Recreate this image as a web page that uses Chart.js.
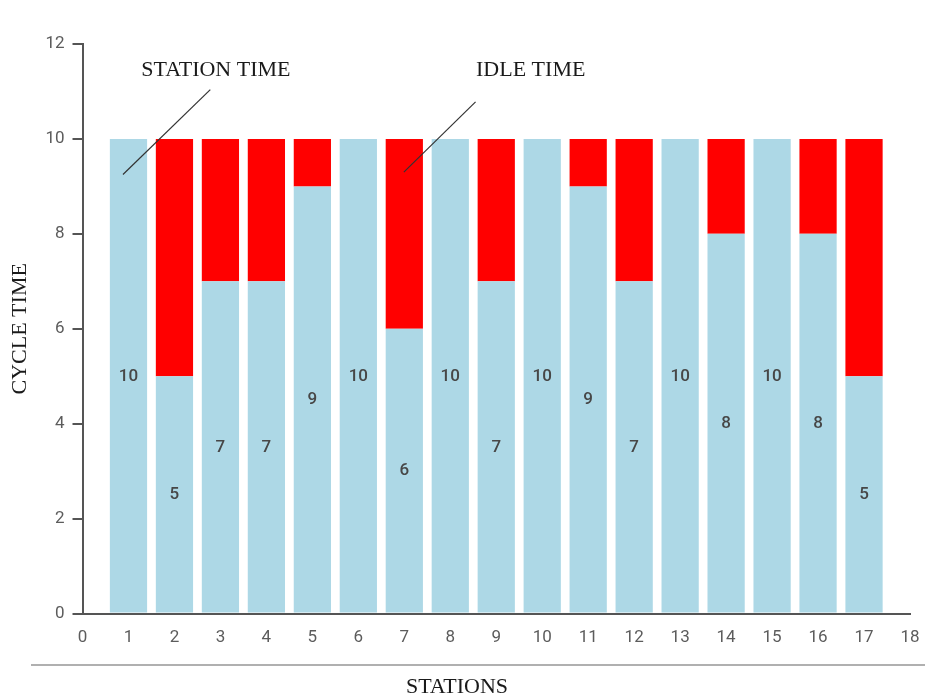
<!DOCTYPE html>
<html>
<head>
<meta charset="utf-8">
<script src="https://cdn.jsdelivr.net/npm/chart.js@4"></script>
<style>
  html, body { margin: 0; padding: 0; background: #ffffff; overflow: hidden; }
  #wrap { width: 925px; height: 700px; position: relative; }
</style>
</head>
<body>
<div id="wrap"><canvas id="chart"></canvas></div>
<script>
// Station numbers along the line
const stations = [1, 2, 3, 4, 5, 6, 7, 8, 9, 10, 11, 12, 13, 14, 15, 16, 17];
// Work content of each station (time units)
const stationTime = [10, 5, 7, 7, 9, 10, 6, 10, 7, 10, 9, 7, 10, 8, 10, 8, 5];
// Unused part of the cycle at each station
const idleTime = [0, 5, 3, 3, 1, 0, 4, 0, 3, 0, 1, 3, 0, 2, 0, 2, 5];
// Axis ranges and tick steps
const xRange = [0, 18];
const yRange = [0, 12];
const yStep = 2;

const AXIS = '#555555';
const TICK_TEXT = '#5c5c5c';
const SERIF = '"Liberation Serif", "Times New Roman", serif';
const SANS = 'Roboto, "DejaVu Sans", sans-serif';

// Value labels in the middle of each station-time bar, plus the callouts
const decorations = {
  id: 'decorations',
  afterDatasetsDraw(chart) {
    const { ctx } = chart;
    const xs = chart.scales.x, ys = chart.scales.y;
    ctx.save();
    ctx.fillStyle = '#474747';
    ctx.font = '500 17px ' + SANS;
    ctx.textAlign = 'center';
    ctx.textBaseline = 'middle';
    stations.forEach((s, i) => {
      ctx.fillText(String(stationTime[i]), xs.getPixelForValue(s), ys.getPixelForValue(stationTime[i] / 2));
    });

    // callout leader lines
    ctx.strokeStyle = '#333333';
    ctx.lineWidth = 1.2;
    const leader = (x1, y1, x2, y2) => {
      ctx.beginPath();
      ctx.moveTo(xs.getPixelForValue(x1), ys.getPixelForValue(y1));
      ctx.lineTo(xs.getPixelForValue(x2), ys.getPixelForValue(y2));
      ctx.stroke();
    };
    leader(0.88, 9.25, 2.78, 11.04);
    leader(6.99, 9.3, 8.55, 10.78);

    ctx.fillStyle = '#1a1a1a';
    ctx.font = '22px ' + SERIF;
    ctx.textAlign = 'left';
    ctx.fillText('STATION TIME', xs.getPixelForValue(1.28), ys.getPixelForValue(11.45));
    ctx.fillText('IDLE TIME', xs.getPixelForValue(8.56), ys.getPixelForValue(11.45));
    ctx.restore();
  },
  afterDraw(chart) {
    // separator rule and the horizontal axis name beneath it
    const { ctx } = chart;
    ctx.save();
    ctx.strokeStyle = '#b0b0b0';
    ctx.lineWidth = 2;
    ctx.beginPath();
    ctx.moveTo(31, 665);
    ctx.lineTo(925, 665);
    ctx.stroke();
    ctx.fillStyle = '#1a1a1a';
    ctx.font = '22px ' + SERIF;
    ctx.textAlign = 'center';
    ctx.textBaseline = 'middle';
    ctx.fillText('STATIONS', 457, 687);
    ctx.restore();
  }
};

new Chart(document.getElementById('chart'), {
  type: 'bar',
  data: {
    datasets: [
      {
        label: 'STATION TIME',
        data: stations.map((s, i) => ({ x: s, y: stationTime[i] })),
        backgroundColor: '#add8e6',
        borderWidth: 0
      },
      {
        label: 'IDLE TIME',
        data: stations.map((s, i) => ({ x: s, y: idleTime[i] })),
        backgroundColor: '#ff0000',
        borderWidth: 0
      }
    ]
  },
  options: {
    responsive: true,
    maintainAspectRatio: false,
    animation: false,
    layout: { padding: { left: 4, right: 15, top: 44, bottom: 52 } },
    categoryPercentage: 1,
    barPercentage: 0.81,
    plugins: {
      legend: { display: false },
      tooltip: { enabled: false }
    },
    scales: {
      x: {
        type: 'linear',
        stacked: true,
        min: xRange[0],
        max: xRange[1],
        offset: false,
        grid: { display: true, drawOnChartArea: false, drawTicks: true, tickLength: 14, color: 'rgba(0,0,0,0)' },
        border: { display: true, color: AXIS, width: 2 },
        ticks: {
          stepSize: 1,
          padding: 0,
          color: TICK_TEXT,
          font: { family: SANS, size: 17 }
        },
        title: { display: false }
      },
      y: {
        stacked: true,
        min: yRange[0],
        max: yRange[1],
        grid: { drawOnChartArea: false, drawTicks: true, tickLength: 10, color: AXIS, lineWidth: 2 },
        border: { display: true, color: AXIS, width: 2 },
        ticks: {
          stepSize: yStep,
          padding: 8,
          color: TICK_TEXT,
          font: { family: SANS, size: 17 }
        },
        title: {
          display: true,
          text: 'CYCLE TIME',
          color: '#1a1a1a',
          font: { family: SERIF, size: 22 },
          padding: { top: 3, bottom: 4 }
        }
      }
    }
  },
  plugins: [decorations]
});
</script>
</body>
</html>
